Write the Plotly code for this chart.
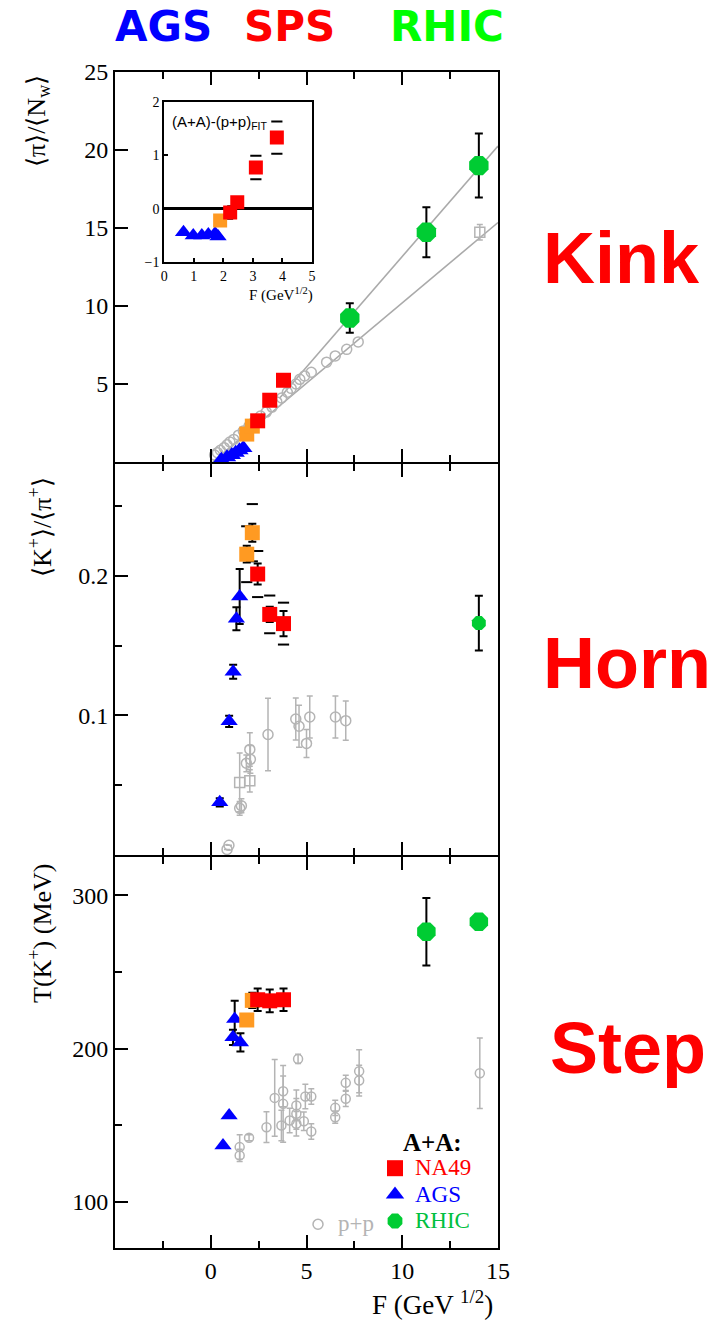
import plotly.graph_objects as go

# ---------------- colours ----------------
RED = '#ff0000'
ORANGE = '#ff9a22'
BLUE = '#0000ff'
GREEN = '#00cc33'
GRAY = '#b4b4b4'
SERIF = 'Liberation Serif'
SANS = 'Liberation Sans'

# ---------------- data ----------------
# F (GeV^1/2) positions
F_na49 = [2.45, 3.08, 3.80]
F_na49_low = [1.88, 2.17]

# --- Kink panel: <pi>/<N_w>
kink_ags_F = [0.55, 0.85, 1.10, 1.30, 1.50, 1.70]
kink_ags = [0.15, 0.30, 0.45, 0.60, 0.75, 0.90]
kink_na49 = [2.64, 3.96, 5.24]
kink_na49_low = [1.79, 2.30]
kink_rhic_F = [7.26, 11.26, 14.00]
kink_rhic = [9.23, 14.73, 19.00]
kink_rhic_err = [0.95, 1.60, 2.05]
kink_pp_F = [0.20, 0.35, 0.50, 0.70, 0.85, 1.00, 1.20, 1.45, 1.70, 2.00, 2.30, 2.60, 2.90,
             3.20, 3.45, 3.70, 4.00, 4.20, 4.45, 4.65, 4.90, 5.25, 6.05, 6.50, 7.10, 7.70]
kink_pp = [0.45, 0.60, 0.75, 0.92, 1.10, 1.28, 1.45, 1.72, 1.98, 2.30, 2.62, 2.95, 3.20,
           3.52, 3.85, 4.10, 4.47, 4.72, 5.00, 5.30, 5.52, 5.75, 6.40, 6.80, 7.22, 7.70]
kink_pp_rhic_F = [14.05]
kink_pp_rhic = [14.73]
kink_pp_rhic_err = [0.5]
fit_aa = dict(slope=1.417, intercept=-0.995, F=[3.6, 15.0])
fit_pp = dict(slope=1.03, intercept=-0.10, F=[0.1, 15.0])

# --- inset: (A+A)-(p+p)_FIT
ins_ags_F = [0.65, 0.98, 1.27, 1.49, 1.72, 1.82]
ins_ags = [-0.44, -0.50, -0.50, -0.48, -0.46, -0.52]
ins_low_F = [1.89]
ins_low = [-0.22]
ins_na49_F = [2.23, 2.47, 3.10, 3.81]
ins_na49 = [-0.07, 0.12, 0.77, 1.33]
ins_na49_stat = [0.12, 0.05, 0.05, 0.08]
ins_na49_sys = [0.0, 0.0, 0.22, 0.30]

# --- Horn panel: <K+>/<pi+>
horn_ags_F = [0.47, 0.96, 1.17, 1.34, 1.51]
horn_ags = [0.0377, 0.0957, 0.1313, 0.1692, 0.1851]
horn_ags_err = [0.003, 0.004, 0.005, 0.0083, 0.0197]
horn_na49 = [0.2012, 0.1723, 0.1657]
horn_na49_stat = [0.0075, 0.0055, 0.0090]
horn_na49_sys = [0.0165, 0.0135, 0.0150]
horn_na49_low = [0.2154, 0.2308]
horn_na49_low_stat = [0.0060, 0.0065]
horn_na49_low_sys = [0.0200, 0.0205]
horn_rhic_F = [14.00]
horn_rhic = [0.1661]
horn_rhic_err = [0.0196]
horn_pp_F = [2.99, 4.44, 4.61, 5.00, 5.17, 6.51, 7.05, 2.04, 2.07, 1.86, 1.60, 1.51, 0.95, 0.85]
horn_pp = [0.0863, 0.0974, 0.0922, 0.0799, 0.0988, 0.0988, 0.0962, 0.0756, 0.0685, 0.0657,
           0.0353, 0.0334, 0.0069, 0.0040]
horn_pp_err = [0.026, 0.015, 0.015, 0.010, 0.015, 0.015, 0.014, 0.012, 0.010, 0.006,
               0.005, 0.005, 0.0, 0.0]
horn_pp_sq_F = [2.04, 1.51]
horn_pp_sq = [0.0531, 0.0520]
horn_pp_sq_err = [0.008, 0.021]

# --- Step panel: T(K+) (MeV)
step_ags_F = [0.64, 0.96, 1.16, 1.25, 1.55]
step_ags = [136.9, 156.4, 207.4, 219.3, 204.1]
step_ags_err = [0.0, 0.0, 5.0, 12.0, 6.0]
step_na49 = [231.9, 231.2, 231.9]
step_na49_err = [7.4, 7.4, 7.4]
step_na49_low = [218.7, 231.5]
step_na49_low_err = [3.0, 5.0]
step_rhic_F = [11.26, 14.00]
step_rhic = [276.3, 282.8]
step_rhic_err = [22.0, 3.0]
step_pp_F = [4.56, 14.05, 7.75, 7.75, 7.05, 7.05, 6.50, 6.50, 5.25, 4.94, 5.25, 4.86, 4.47, 4.47,
             4.47, 4.12, 3.78, 3.78, 3.69, 3.34, 2.91, 2.00, 1.51, 1.51]
step_pp = [193.3, 184.0, 185.3, 179.2, 177.7, 167.3, 161.4, 155.3, 168.8, 168.8, 146.0, 152.7, 163.0,
           157.5, 151.0, 153.1, 172.2, 164.0, 149.9, 167.9, 148.8, 141.9, 135.8, 130.4]
step_pp_err = [3, 23, 14, 10, 5, 5, 5, 4, 5, 8, 5, 6, 10, 10, 8, 8, 10, 25, 10, 25, 10, 2, 8, 4]

# ---------------- figure ----------------
fig = go.Figure()


def eb(arr, color='black', thick=2, width=4):
    return dict(type='data', array=arr, color=color, thickness=thick, width=width, visible=True)


def pts(x, y, ax, symbol, color, size, err=None, ecolor='black', ethick=2, ewidth=4, lw=0):
    mk = dict(symbol=symbol, size=size, color=color)
    if symbol.endswith('open'):
        mk['line'] = dict(color=color, width=lw or 1.5)
    else:
        mk['line'] = dict(width=0)
    tr = go.Scatter(x=x, y=y, mode='markers', marker=mk, showlegend=False,
                    xaxis='x' + ax, yaxis='y' + ax, hoverinfo='skip')
    if err is not None:
        tr.error_y = eb(err, ecolor, ethick, ewidth)
    fig.add_trace(tr)


def sys_dashes(x, y, s, ax):
    xs, ys = [], []
    for xi, yi, si in zip(x, y, s):
        if si > 0:
            xs += [xi, xi]
            ys += [yi + si, yi - si]
    fig.add_trace(go.Scatter(x=xs, y=ys, mode='markers', showlegend=False, hoverinfo='skip',
                             marker=dict(symbol='line-ew', size=8, line=dict(width=2, color='black')),
                             xaxis='x' + ax, yaxis='y' + ax))


def fit_line(f, ax):
    xs = f['F']
    ys = [f['slope'] * v + f['intercept'] for v in xs]
    fig.add_trace(go.Scatter(x=xs, y=ys, mode='lines', line=dict(color='#aaaaaa', width=1.6),
                             showlegend=False, hoverinfo='skip', xaxis='x' + ax, yaxis='y' + ax))


# --- Kink panel (axis 1 -> '' suffix)
fit_line(fit_pp, '')
fit_line(fit_aa, '')
pts(kink_pp_F, kink_pp, '', 'circle-open', GRAY, 10)
pts(kink_pp_rhic_F, kink_pp_rhic, '', 'square-open', GRAY, 10, kink_pp_rhic_err, GRAY, 1.5, 3)
pts(kink_ags_F, kink_ags, '', 'triangle-up', BLUE, 16)
pts(F_na49_low, kink_na49_low, '', 'square', ORANGE, 15)
pts(F_na49, kink_na49, '', 'square', RED, 15)
pts(kink_rhic_F, kink_rhic, '', 'octagon', GREEN, 21, kink_rhic_err)

# --- inset (axis 4)
sys_dashes(ins_na49_F, ins_na49, ins_na49_sys, '4')
pts(ins_ags_F, ins_ags, '4', 'triangle-up', BLUE, 15)
pts(ins_low_F, ins_low, '4', 'square', ORANGE, 14)
pts(ins_na49_F, ins_na49, '4', 'square', RED, 14, ins_na49_stat, 'black', 1.5, 3)

# --- Horn panel (axis 2)
pts(horn_pp_F, horn_pp, '2', 'circle-open', GRAY, 10, horn_pp_err, GRAY, 1.5, 3)
pts(horn_pp_sq_F, horn_pp_sq, '2', 'square-open', GRAY, 10, horn_pp_sq_err, GRAY, 1.5, 3)
sys_dashes(F_na49_low, horn_na49_low, horn_na49_low_sys, '2')
sys_dashes(F_na49, horn_na49, horn_na49_sys, '2')
pts(horn_ags_F, horn_ags, '2', 'triangle-up', BLUE, 15, horn_ags_err)
pts(F_na49_low, horn_na49_low, '2', 'square', ORANGE, 15, horn_na49_low_stat)
pts(F_na49, horn_na49, '2', 'square', RED, 15, horn_na49_stat)
pts(horn_rhic_F, horn_rhic, '2', 'octagon', GREEN, 15, horn_rhic_err)

# --- Step panel (axis 3)
pts(step_pp_F, step_pp, '3', 'circle-open', GRAY, 9, step_pp_err, GRAY, 1.5, 3)
pts(step_ags_F, step_ags, '3', 'triangle-up', BLUE, 15, step_ags_err)
pts(F_na49_low, step_na49_low, '3', 'square', ORANGE, 15, step_na49_low_err)
pts(F_na49, step_na49, '3', 'square', RED, 15, step_na49_err)
pts(step_rhic_F, step_rhic, '3', 'octagon', GREEN, 20, step_rhic_err)

# --- legend entries (no data)
legend_items = [('NA49', 'square', RED, RED, 16),
                ('AGS', 'triangle-up', BLUE, BLUE, 16),
                ('RHIC', 'octagon', GREEN, '#00c040', 20)]
for name, sym, col, tcol, sz in legend_items:
    fig.add_trace(go.Scatter(x=[None], y=[None], mode='markers', legend='legend',
                             name=f"<span style='color:{tcol};font-size:23px'>{name}</span>",
                             marker=dict(symbol=sym, size=sz, color=col, line=dict(width=0)),
                             xaxis='x3', yaxis='y3'))
fig.add_trace(go.Scatter(x=[None], y=[None], mode='markers', legend='legend2',
                         name=f"<span style='color:{GRAY};font-size:23px'>p+p</span>",
                         marker=dict(symbol='circle-open', size=10, color=GRAY, line=dict(width=1.5, color=GRAY)),
                         xaxis='x3', yaxis='y3'))

# ---------------- layout ----------------
L, R, T, B = 115, 230, 72, 75
PH = 1323 - T - B


def py2paper(py):
    return (1323 - B - py) / PH


def px2paper(px):
    return (px - L) / (728 - L - R)


# axis lines are drawn outside the plot areas, so neighbouring panels are
# separated by one line width for the shared borders to coincide
d_top = [py2paper(462), 1.0]
d_mid = [py2paper(855), py2paper(464)]
d_bot = [0.0, py2paper(857)]

tickfont = dict(family=SERIF, size=24, color='black')
common_x = dict(range=[-5, 15], showline=True, linewidth=2, linecolor='black', mirror='ticks',
                ticks='inside', ticklen=13, tickwidth=2, tickcolor='black', tickvals=[0, 5, 10, 15],
                minor=dict(tickvals=[-2.5, 2.5, 7.5, 12.5], ticks='inside', ticklen=7, tickwidth=2,
                           tickcolor='black'),
                showgrid=False, zeroline=False, tickfont=tickfont)
common_y = dict(showline=True, linewidth=2, linecolor='black', mirror=True, ticks='inside',
                ticklen=13, tickwidth=2, tickcolor='black', showgrid=False, zeroline=False,
                tickfont=tickfont)

fig.update_layout(
    width=728, height=1323, margin=dict(l=L, r=R, t=T, b=B),
    plot_bgcolor='white', paper_bgcolor='white',
    xaxis=dict(common_x, domain=[0, 1], anchor='y', showticklabels=False),
    yaxis=dict(common_y, domain=d_top, anchor='x', range=[0, 25], tickvals=[5, 10, 15, 20, 25]),
    xaxis2=dict(common_x, domain=[0, 1], anchor='y2', showticklabels=False),
    yaxis2=dict(common_y, domain=d_mid, anchor='x2', range=[0, 0.28], tickvals=[0.1, 0.2],
                ticktext=['0.1', '0.2'],
                minor=dict(tickvals=[0.05, 0.15, 0.25], ticks='inside', ticklen=7, tickwidth=2,
                           tickcolor='black')),
    xaxis3=dict(common_x, domain=[0, 1], anchor='y3'),
    yaxis3=dict(common_y, domain=d_bot, anchor='x3', range=[70, 325], tickvals=[100, 200, 300],
                minor=dict(tickvals=[150, 250], ticks='inside', ticklen=7, tickwidth=2,
                           tickcolor='black')),
    xaxis4=dict(domain=[px2paper(164.3), px2paper(312)], anchor='y4', range=[0, 5], dtick=1,
                showline=True, linewidth=2, linecolor='black', mirror=True, ticks='inside',
                ticklen=4, tickwidth=1.5, tickcolor='black', showgrid=False, zeroline=False,
                tickfont=dict(family=SERIF, size=14, color='black')),
    yaxis4=dict(domain=[py2paper(262.3), py2paper(101.7)], anchor='x4', range=[-1, 2], dtick=1,
                showline=True, linewidth=2, linecolor='black', mirror=True, ticks='inside',
                ticklen=4, tickwidth=1.5, tickcolor='black', showgrid=False, zeroline=True,
                zerolinecolor='black', zerolinewidth=3,
                tickfont=dict(family=SERIF, size=14, color='black')),
    legend=dict(x=px2paper(375), y=py2paper(1150), xanchor='left', yanchor='top',
                bgcolor='rgba(0,0,0,0)', font=dict(family=SERIF, size=18), tracegroupgap=0,
                itemsizing='trace'),
    legend2=dict(x=px2paper(298), y=py2paper(1206), xanchor='left', yanchor='top',
                 bgcolor='rgba(0,0,0,0)', font=dict(family=SERIF, size=18)),
)

ann = []
# header labels
for txt, cx, col in [('AGS', 163, '#0000ff'), ('SPS', 289, '#ff0000'), ('RHIC', 447, '#00ff00')]:
    ann.append(dict(text=f'<b>{txt}</b>', x=px2paper(cx), y=py2paper(26), xref='paper', yref='paper',
                    xanchor='center', yanchor='middle', showarrow=False,
                    font=dict(family='DejaVu Sans', size=42, color=col)))
# side labels
for txt, cx, cy in [('Kink', 621, 258), ('Horn', 627, 663), ('Step', 628, 1048)]:
    ann.append(dict(text=f'<b>{txt}</b>', x=px2paper(cx), y=py2paper(cy), xref='paper', yref='paper',
                    xanchor='center', yanchor='middle', showarrow=False,
                    font=dict(family=SANS, size=72, color='#ff0000')))
# axis titles
for txt, cx, cy in [('⟨π⟩/⟨N<sub>w</sub>⟩', 38, 121),
                    ('⟨K<sup>+</sup>⟩/⟨π<sup>+</sup>⟩', 40, 527),
                    ('T(K<sup>+</sup>) (MeV)', 40, 933)]:
    ann.append(dict(text=txt, x=px2paper(cx), y=py2paper(cy), xref='paper', yref='paper',
                    xanchor='center', yanchor='middle', textangle=-90, showarrow=False,
                    font=dict(family=SERIF, size=26, color='black')))
ann.append(dict(text='F (GeV <sup>1/2</sup>)', x=px2paper(432), y=py2paper(1303), xref='paper', yref='paper',
                xanchor='center', yanchor='middle', showarrow=False,
                font=dict(family=SERIF, size=27, color='black')))
# inset texts
ann.append(dict(text='F (GeV<sup>1/2</sup>)', x=px2paper(281), y=py2paper(295), xref='paper', yref='paper',
                xanchor='center', yanchor='middle', showarrow=False,
                font=dict(family=SERIF, size=15, color='black')))
ann.append(dict(text='(A+A)-(p+p)<sub>FIT</sub>', x=px2paper(170), y=py2paper(122), xref='paper', yref='paper',
                xanchor='left', yanchor='middle', showarrow=False,
                font=dict(family=SANS, size=15, color='black')))
# legend title
ann.append(dict(text='<b>A+A:</b>', x=px2paper(432), y=py2paper(1142), xref='paper', yref='paper',
                xanchor='center', yanchor='middle', showarrow=False,
                font=dict(family=SERIF, size=25, color='black')))
fig.update_layout(annotations=ann)

fig.write_html('out.html')
